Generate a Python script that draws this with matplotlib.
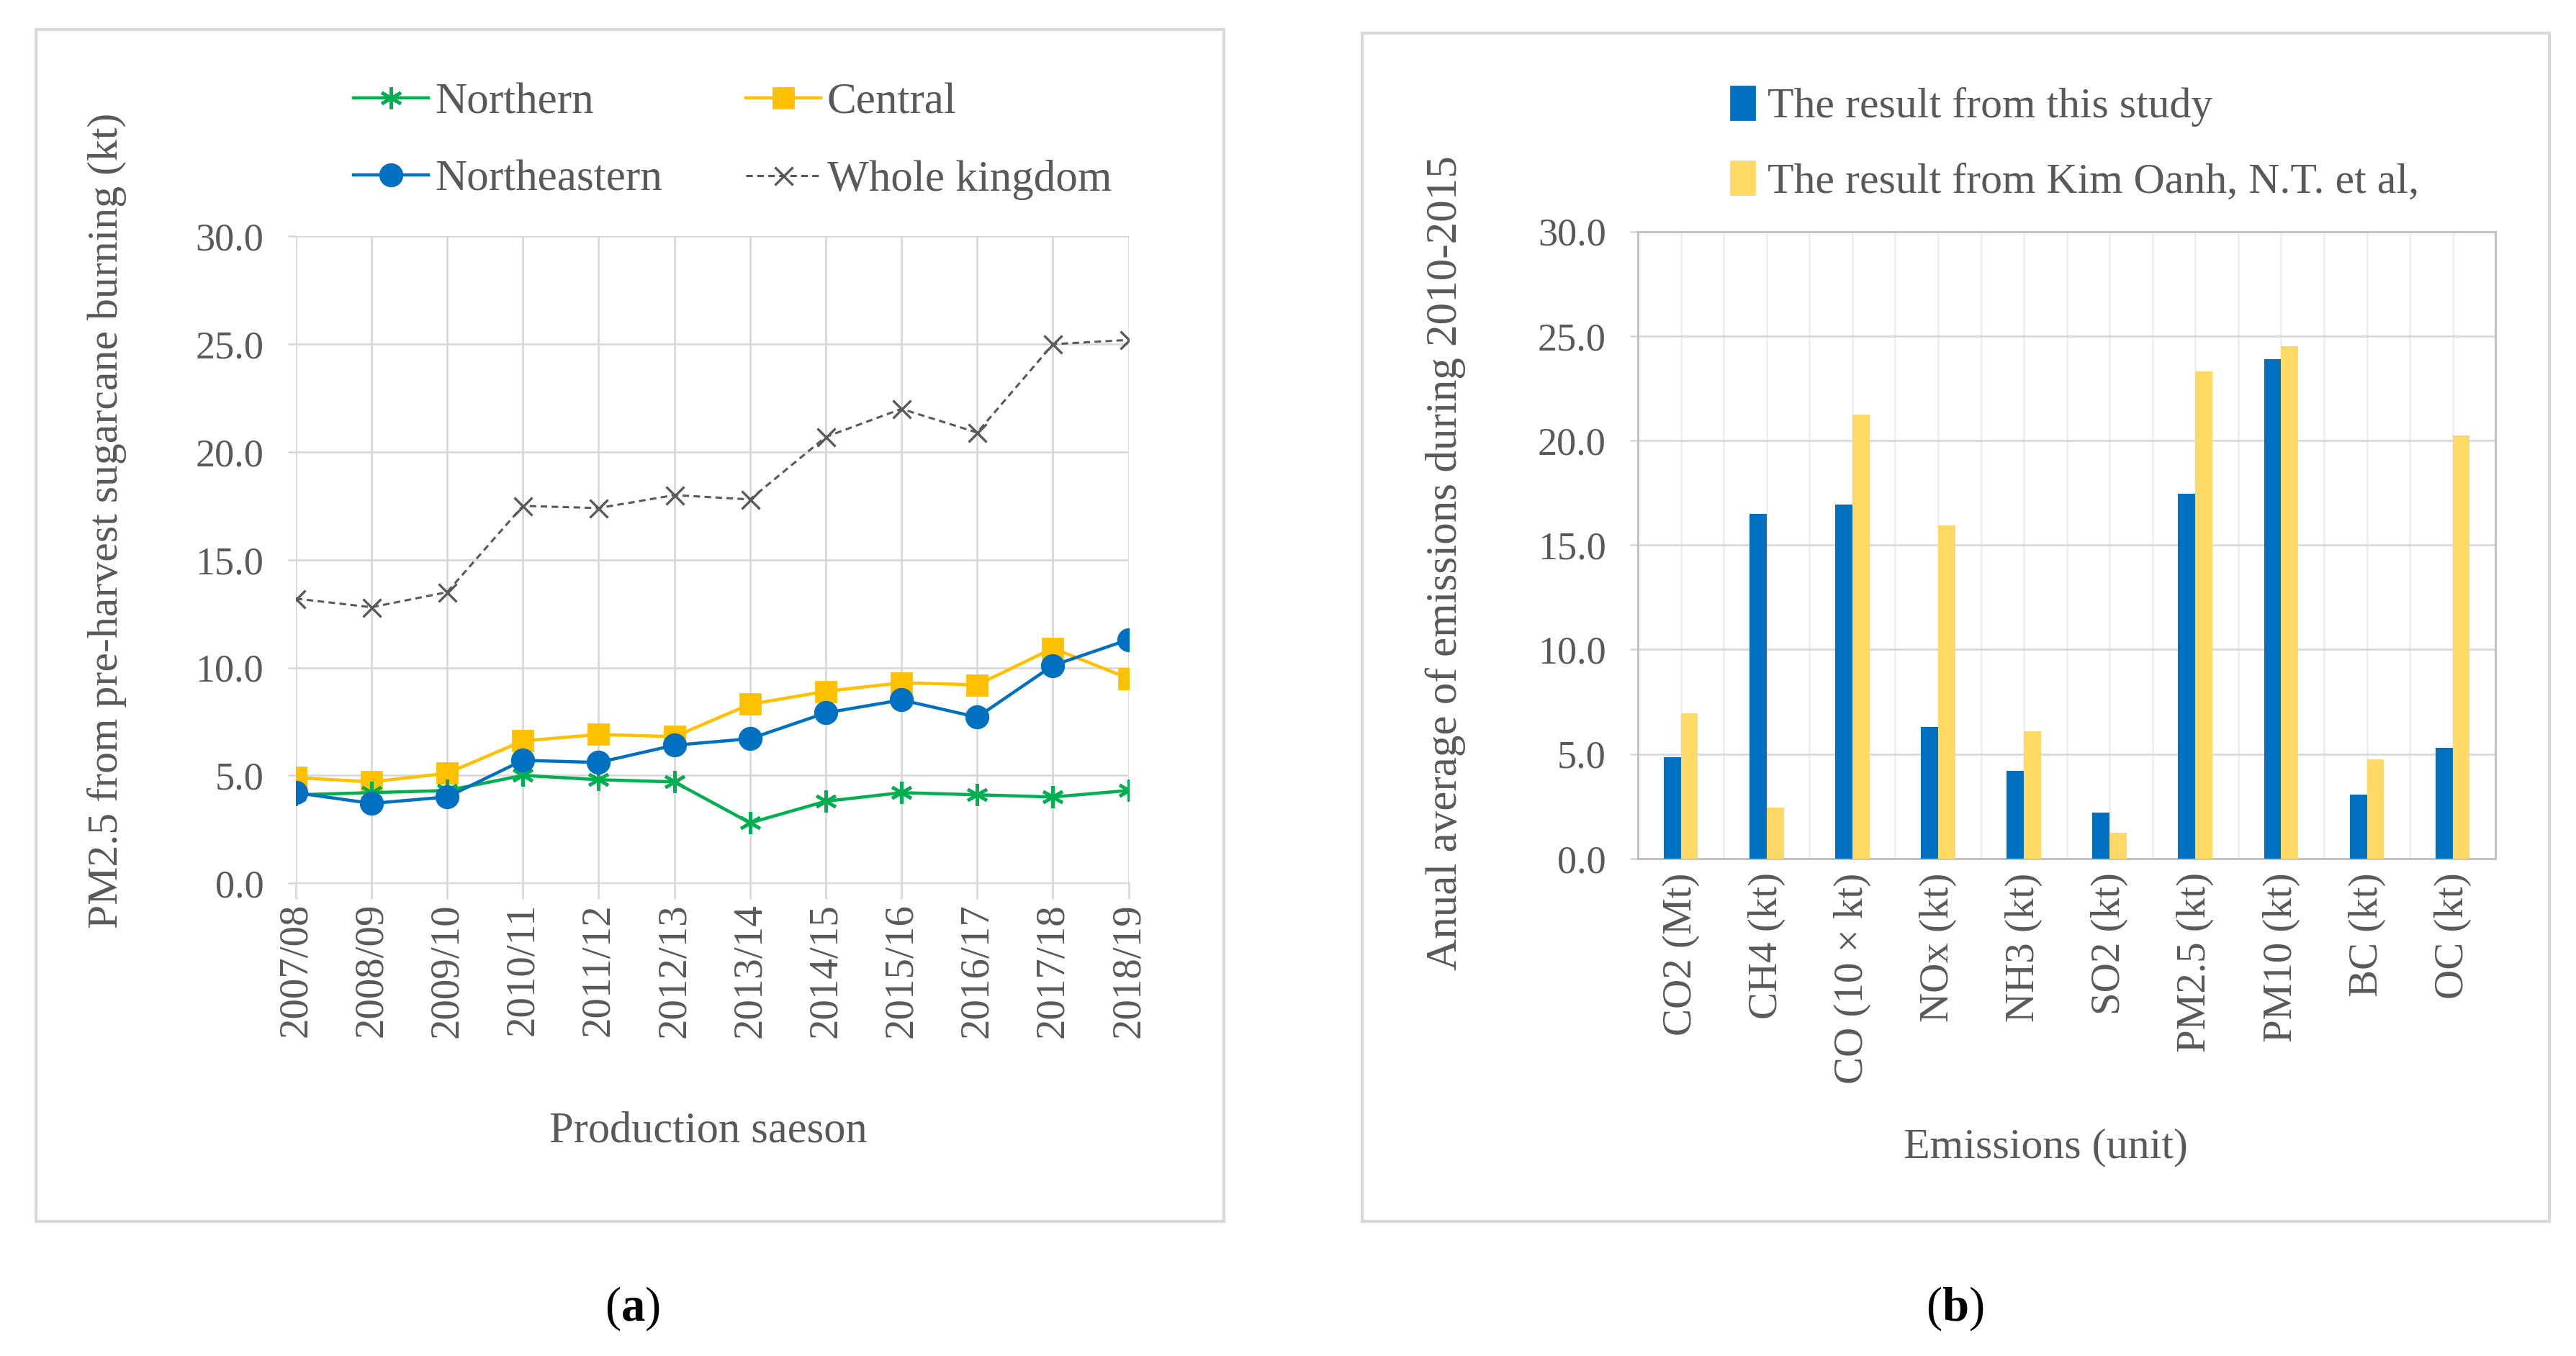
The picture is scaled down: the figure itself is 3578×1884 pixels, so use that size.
import numpy as np
import matplotlib.pyplot as plt
from matplotlib.patches import Patch, Rectangle

plt.rcParams["font.family"] = ["Liberation Serif", "DejaVu Serif"]
plt.rcParams["mathtext.fontset"] = "custom"
plt.rcParams["mathtext.rm"] = "Liberation Serif"
plt.rcParams["mathtext.bf"] = "Liberation Serif:bold"

# ---- data: (a) PM2.5 by region ----
seasons = ["2007/08", "2008/09", "2009/10", "2010/11", "2011/12", "2012/13",
           "2013/14", "2014/15", "2015/16", "2016/17", "2017/18", "2018/19"]
northern = [4.1, 4.2, 4.3, 5.0, 4.8, 4.7, 2.8, 3.8, 4.2, 4.1, 4.0, 4.3]
central = [4.9, 4.7, 5.1, 6.6, 6.9, 6.8, 8.3, 8.9, 9.3, 9.2, 10.9, 9.5]
northeastern = [4.2, 3.7, 4.0, 5.7, 5.6, 6.4, 6.7, 7.9, 8.5, 7.7, 10.1, 11.3]
whole_kingdom = [13.2, 12.8, 13.5, 17.5, 17.4, 18.0, 17.8, 20.7, 22.0, 20.9, 25.0, 25.2]

# ---- data: (b) emission comparison ----
emissions = ["CO2 (Mt)", "CH4 (kt)", "CO (10 × kt)", "NOx (kt)", "NH3 (kt)",
             "SO2 (kt)", "PM2.5 (kt)", "PM10 (kt)", "BC (kt)", "OC (kt)"]
this_study = [4.85, 16.5, 16.95, 6.3, 4.2, 2.2, 17.45, 23.9, 3.05, 5.3]
kim_oanh = [6.95, 2.45, 21.25, 15.95, 6.1, 1.25, 23.3, 24.5, 4.75, 20.25]

TXT = "#595959"
GRID = "#D9D9D9"

W, H = 1568.0, 826.0  # layout measured on a scaled copy


def fx(px):
    return px / W


def fy(py):
    return 1 - py / H


fig = plt.figure(figsize=(17.89, 9.42), dpi=200)

# panel frames
for x0, x1, y0, y1 in [(22, 745, 18, 744), (829, 1552, 20, 744)]:
    fig.patches.append(Rectangle((fx(x0), fy(y1)), fx(x1) - fx(x0), fy(y0) - fy(y1),
                                 transform=fig.transFigure, fill=False,
                                 edgecolor="#D9D9D9", lw=1.5, zorder=0))

# ---------------- (a) ----------------
ax1 = fig.add_axes([fx(180), fy(538), fx(687) - fx(180), fy(144) - fy(538)])
x = np.arange(len(seasons))
l_n, = ax1.plot(x, northern, color="#00B050", lw=1.6, marker=(6, 2, 0), ms=11,
                mew=1.6, label="Northern", zorder=4)
l_c, = ax1.plot(x, central, color="#FFC000", lw=1.6, marker="s", ms=10,
                label="Central", zorder=3)
l_ne, = ax1.plot(x, northeastern, color="#0070C0", lw=1.6, marker="o", ms=11,
                 label="Northeastern", zorder=5)
l_w, = ax1.plot(x, whole_kingdom, color="#595959", lw=1.1, ls=(0, (3, 2)),
                marker="x", ms=9, mew=1.2, label="Whole kingdom", zorder=3)

ax1.set_xlim(0, len(seasons) - 1)
ax1.set_ylim(0, 30)
ax1.set_yticks(np.arange(0, 31, 5))
ax1.set_yticklabels([f"{v:.1f}" for v in np.arange(0, 31, 5)])
ax1.set_xticks(x)
ax1.set_xticklabels(seasons, rotation=90)
ax1.grid(True, color=GRID, lw=1.0)
ax1.set_axisbelow(True)
for s in ["top", "right", "left"]:
    ax1.spines[s].set_visible(False)
ax1.spines["bottom"].set_color(GRID)
ax1.tick_params(axis="x", length=8, width=1.0, color=GRID, pad=2,
                labelsize=20.5, labelcolor=TXT)
ax1.tick_params(axis="y", length=4, width=1.0, color=GRID, pad=12,
                labelsize=19.5, labelcolor=TXT)

fig.text(fx(65), fy(317), "PM2.5 from pre-harvest sugarcane burning (kt)",
         rotation=90, ha="center", va="center", fontsize=21.5, color=TXT)
fig.text(fx(431), fy(689), "Production saeson", ha="center", va="center",
         fontsize=21.8, color=TXT)

fig.legend(handles=[l_n, l_ne, l_c, l_w], ncol=2, loc="upper left",
           bbox_to_anchor=(fx(191), fy(26)), frameon=False, fontsize=22,
           labelcolor=TXT, handlelength=1.7, handletextpad=0.15,
           columnspacing=1.9, labelspacing=0.85)

fig.text(fx(385), fy(797), r"($\mathbf{a}$)", ha="center", va="center",
         fontsize=24, color="black")

# ---------------- (b) ----------------
ax2 = fig.add_axes([fx(997), fy(523), fx(1519) - fx(997), fy(141) - fy(523)])
xb = np.arange(len(emissions))
bw = 0.2
ax2.bar(xb - bw / 2, this_study, bw, color="#0070C0", zorder=3)
ax2.bar(xb + bw / 2, kim_oanh, bw, color="#FFD966", zorder=3)
ax2.set_xlim(-0.5, len(emissions) - 0.5)
ax2.set_ylim(0, 30)
ax2.set_yticks(np.arange(0, 31, 5))
ax2.set_yticklabels([f"{v:.1f}" for v in np.arange(0, 31, 5)])
ax2.set_xticks(xb)
ax2.set_xticklabels(emissions, rotation=90)
ax2.set_xticks(np.arange(-0.5, len(emissions), 1.0), minor=True)
ax2.grid(True, axis="y", color=GRID, lw=1.0)
ax2.grid(True, axis="x", which="both", color="#EDEDED", lw=0.9)
ax2.set_axisbelow(True)
for s in ax2.spines.values():
    s.set_color("#BFBFBF")
    s.set_linewidth(1.0)
ax2.tick_params(axis="x", which="both", length=0, pad=7,
                labelsize=20.5, labelcolor=TXT)
ax2.tick_params(axis="y", length=4, width=1.0, color=GRID, pad=12,
                labelsize=19.5, labelcolor=TXT)

fig.text(fx(880), fy(343), "Anual average of emissions during 2010-2015",
         rotation=90, ha="center", va="center", fontsize=22, color=TXT)
fig.text(fx(1245), fy(699), "Emissions (unit)", ha="center", va="center",
         fontsize=21.6, color=TXT)

bar_handles = [Patch(color="#0070C0", label="The result from this study"),
               Patch(color="#FFD966", label="The result from Kim Oanh, N.T. et al,")]
fig.legend(handles=bar_handles, ncol=1, loc="upper left",
           bbox_to_anchor=(fx(1030), fy(29)), frameon=False, fontsize=21.5,
           labelcolor=TXT, handlelength=0.55, handleheight=0.8,
           handletextpad=0.3, labelspacing=0.8)

fig.text(fx(1190), fy(797), r"($\mathbf{b}$)", ha="center", va="center",
         fontsize=24, color="black")

fig.savefig("out.png", dpi=200)
